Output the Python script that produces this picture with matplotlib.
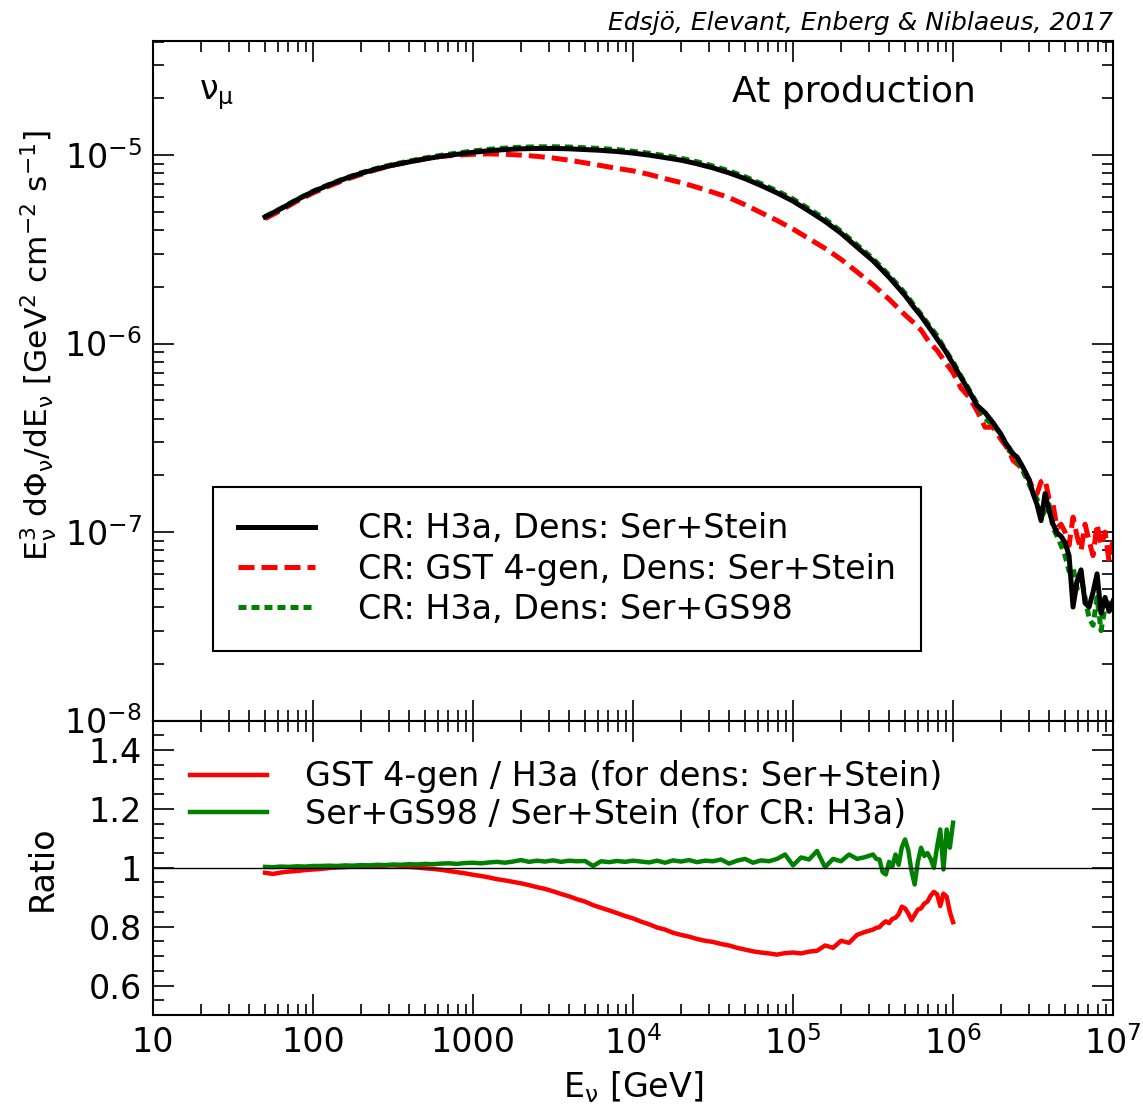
import numpy as np
import matplotlib
matplotlib.use('Agg')
import matplotlib.pyplot as plt
from matplotlib.ticker import LogLocator, FixedLocator, MultipleLocator, FuncFormatter

plt.rcParams['font.family'] = ['DejaVu Sans']
plt.rcParams['mathtext.fontset'] = 'dejavusans'
plt.rcParams['mathtext.default'] = 'regular'

# energy grid (log10 E / GeV) for the flux panel
logE_flux = np.concatenate([np.linspace(1.7, 5.7, 41),
                            np.linspace(5.75, 6.3, 12),
                            np.linspace(6.325, 7.0, 28)])

# E^3 dPhi/dE in units of 1e-6 GeV^2 cm^-2 s^-1
h3a_stein = [4.70, 5.20, 5.80, 6.40, 6.95, 7.50, 8.00, 8.45, 8.85, 9.20,
             9.55, 9.85, 10.10, 10.35, 10.55, 10.70, 10.80, 10.85, 10.85, 10.80,
             10.70, 10.60, 10.45, 10.25, 10.00, 9.70, 9.40, 9.00, 8.55, 8.05,
             7.50, 6.90, 6.30, 5.70, 5.05, 4.45, 3.85, 3.25, 2.75, 2.25,
             1.80,
             1.58, 1.40, 1.22, 1.06, 0.92, 0.78, 0.66, 0.56, 0.47, 0.43,
             0.38, 0.33,
             0.30, 0.28, 0.26, 0.25, 0.23, 0.21, 0.19, 0.16, 0.14, 0.115,
             0.16, 0.13, 0.11, 0.099, 0.095, 0.088, 0.075, 0.040, 0.055, 0.063,
             0.042, 0.040, 0.048, 0.060, 0.037, 0.045, 0.038, 0.043]

gst_stein = [4.60, 5.10, 5.70, 6.30, 6.85, 7.40, 7.90, 8.40, 8.85, 9.20,
             9.55, 9.85, 10.00, 10.10, 10.15, 10.10, 10.00, 9.85, 9.65, 9.40,
             9.10, 8.80, 8.50, 8.25, 7.90, 7.50, 7.15, 6.75, 6.35, 5.95,
             5.45, 4.95, 4.50, 4.05, 3.60, 3.20, 2.80, 2.40, 2.05, 1.72,
             1.42,
             1.30, 1.18, 1.02, 0.92, 0.80, 0.70, 0.58, 0.52, 0.44, 0.36,
             0.36, 0.31,
             0.29, 0.27, 0.24, 0.23, 0.22, 0.20, 0.19, 0.17, 0.16, 0.185,
             0.19, 0.15, 0.14, 0.105, 0.11, 0.10, 0.085, 0.12, 0.095, 0.08,
             0.11, 0.09, 0.075, 0.11, 0.085, 0.10, 0.07, 0.09]

h3a_gs98 = [4.72, 5.22, 5.82, 6.43, 6.99, 7.55, 8.06, 8.52, 8.93, 9.30,
            9.66, 9.98, 10.25, 10.52, 10.74, 10.90, 11.01, 11.07, 11.08, 11.04,
            10.94, 10.84, 10.69, 10.48, 10.23, 9.93, 9.62, 9.22, 8.75, 8.25,
            7.68, 7.06, 6.46, 5.85, 5.18, 4.58, 3.94, 3.34, 2.82, 2.31,
            1.85,
            1.62, 1.43, 1.25, 1.10, 0.93, 0.80, 0.67, 0.57, 0.48, 0.40,
            0.37, 0.33,
            0.30, 0.27, 0.26, 0.24, 0.22, 0.20, 0.18, 0.16, 0.15, 0.12,
            0.13, 0.14, 0.105, 0.095, 0.085, 0.075, 0.062, 0.065, 0.05, 0.058,
            0.045, 0.035, 0.032, 0.045, 0.030, 0.04, 0.042, 0.038]

# energy grid for the ratio panel
logE_ratio = np.concatenate([np.linspace(1.7, 5.5, 77), np.linspace(5.52, 6.0, 25)])

ratio_gst = [0.983, 0.979, 0.984, 0.987, 0.989, 0.992, 0.994, 0.996, 0.999, 1.001,
             1.002, 1.005, 1.004, 1.006, 1.004, 1.007, 1.008, 1.006, 1.003, 1.001,
             0.998, 0.996, 0.993, 0.989, 0.985, 0.981, 0.976, 0.972, 0.967, 0.961,
             0.957, 0.952, 0.947, 0.941, 0.934, 0.928, 0.920, 0.911, 0.903, 0.893,
             0.885, 0.873, 0.864, 0.855, 0.846, 0.836, 0.828, 0.817, 0.808, 0.797,
             0.790, 0.779, 0.772, 0.766, 0.758, 0.752, 0.748, 0.741, 0.736, 0.728,
             0.722, 0.716, 0.712, 0.709, 0.705, 0.710, 0.712, 0.709, 0.715, 0.718,
             0.736, 0.728, 0.752, 0.745, 0.772, 0.782, 0.790,
             0.796, 0.798, 0.810, 0.818, 0.812, 0.826, 0.830, 0.842, 0.868, 0.862,
             0.845, 0.822, 0.840, 0.858, 0.862, 0.878, 0.885, 0.905, 0.918, 0.910,
             0.870, 0.912, 0.902, 0.850, 0.815]

ratio_gs98 = [1.003, 1.002, 1.004, 1.003, 1.005, 1.004, 1.006, 1.006, 1.007, 1.006,
              1.008, 1.007, 1.009, 1.008, 1.010, 1.009, 1.011, 1.010, 1.012, 1.011,
              1.013, 1.012, 1.014, 1.015, 1.013, 1.016, 1.017, 1.015, 1.018, 1.020,
              1.017, 1.021, 1.026, 1.020, 1.024, 1.021, 1.025, 1.020, 1.024, 1.022,
              1.023, 1.006, 1.022, 1.019, 1.023, 1.020, 1.024, 1.021, 1.018, 1.024,
              1.017, 1.025, 1.021, 1.026, 1.019, 1.024, 1.022, 1.028, 1.014, 1.024,
              1.030, 1.017, 1.025, 1.022, 1.030, 1.045, 1.008, 1.035, 1.028, 1.057,
              1.002, 1.030, 1.022, 1.045, 1.030, 1.036, 1.045,
              1.030, 1.028, 0.985, 0.977, 1.020, 1.003, 1.045, 1.010, 1.070, 1.096,
              1.060, 0.990, 0.943, 1.020, 1.068, 1.040, 1.050, 1.030, 1.000, 1.070,
              1.130, 0.994, 1.130, 1.068, 1.153]

labels_flux = ['CR: H3a, Dens: Ser+Stein',
               'CR: GST 4-gen, Dens: Ser+Stein',
               'CR: H3a, Dens: Ser+GS98']
labels_ratio = ['GST 4-gen / H3a (for dens: Ser+Stein)',
                'Ser+GS98 / Ser+Stein (for CR: H3a)']
x_ticks = [1e1, 1e2, 1e3, 1e4, 1e5, 1e6, 1e7]

E_flux = 10 ** logE_flux
E_ratio = 10 ** logE_ratio
scale = 1e-6

fig = plt.figure(figsize=(11.43, 11.09), dpi=100)
ax1 = fig.add_axes([0.1339, 0.3503, 0.8399, 0.6127])
ax2 = fig.add_axes([0.1339, 0.0848, 0.8399, 0.2655], sharex=ax1)

# flux panel (black drawn on top)
ax1.plot(E_flux, np.array(h3a_stein) * scale, color='black', lw=3.6, label=labels_flux[0], zorder=3)
ax1.plot(E_flux, np.array(gst_stein) * scale, color='red', lw=3.6, dashes=(3.2, 1.4), label=labels_flux[1], zorder=2)
ax1.plot(E_flux, np.array(h3a_gs98) * scale, color='green', lw=3.6, dashes=(1.6, 1.0), label=labels_flux[2], zorder=2)
ax1.set_xscale('log')
ax1.set_yscale('log')
ax1.set_xlim(10, 1e7)
ax1.set_ylim(1e-8, 4.03e-5)

leg = ax1.legend(loc='lower left', bbox_to_anchor=(0.0625, 0.1023), fontsize=24,
                 frameon=True, fancybox=False, edgecolor='black', framealpha=1,
                 handlelength=2.3, handletextpad=1.3, labelspacing=0.22,
                 borderpad=0.75, borderaxespad=0)
leg.get_frame().set_linewidth(1.5)

ax1.text(0.048, 0.92, r'$\nu_\mu$', transform=ax1.transAxes, fontsize=24, va='center', ha='left')
ax1.text(0.7297, 0.925, 'At production', transform=ax1.transAxes, fontsize=26, va='center', ha='center')
fig.text(0.974, 0.979, 'Edsjö, Elevant, Enberg & Niblaeus, 2017', fontsize=18, style='italic',
         ha='right', va='center')

# ratio panel
ax2.plot(E_ratio, ratio_gst, color='red', lw=3.2, label=labels_ratio[0])
ax2.plot(E_ratio, ratio_gs98, color='green', lw=3.2, label=labels_ratio[1])
ax2.axhline(1.0, color='black', lw=1)
ax2.set_ylim(0.5, 1.5)
ax2.legend(loc='upper left', bbox_to_anchor=(0.0211, 0.9216), fontsize=24, frameon=False,
           handlelength=2.3, handletextpad=1.15, labelspacing=0.14, borderpad=0.5,
           borderaxespad=0)

# ticks
for ax in (ax1, ax2):
    ax.tick_params(which='both', direction='in', top=True, right=True, width=1.2)
    ax.tick_params(which='major', length=15, labelsize=24, pad=8)
    ax.tick_params(which='minor', length=8)
    for s in ax.spines.values():
        s.set_linewidth(1.5)
    ax.xaxis.set_major_locator(FixedLocator(x_ticks))
    ax.xaxis.set_minor_locator(LogLocator(base=10, subs=np.arange(2, 10), numticks=20))

ax1.tick_params(labelbottom=False)
ax1.yaxis.set_major_locator(LogLocator(base=10, numticks=20))
ax1.yaxis.set_minor_locator(LogLocator(base=10, subs=np.arange(2, 10), numticks=20))


def xfmt(v, pos):
    n = int(round(np.log10(v)))
    if n <= 3:
        return '%d' % round(v)
    return r'$10^{%d}$' % n


ax2.xaxis.set_major_formatter(FuncFormatter(xfmt))
ax2.yaxis.set_major_locator(FixedLocator([0.6, 0.8, 1.0, 1.2, 1.4]))
ax2.yaxis.set_minor_locator(MultipleLocator(0.05))
ax2.yaxis.set_major_formatter(FuncFormatter(lambda v, p: ('%g' % round(v, 2))))

ax1.set_ylabel(r'$E_\nu^3\ d\Phi_\nu/dE_\nu\ [GeV^2\ cm^{-2}\ s^{-1}]$', fontsize=22.5)
ax1.yaxis.set_label_coords(-0.098, 0.5526)
ax2.set_ylabel('Ratio', fontsize=24)
ax2.yaxis.set_label_coords(-0.098, 0.5)
ax2.set_xlabel(r'$E_\nu$ [GeV]', fontsize=24, labelpad=6)

plt.savefig('out.png', dpi=100)
